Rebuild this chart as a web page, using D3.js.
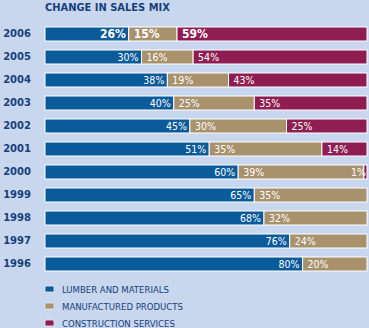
<!DOCTYPE html>
<html>
<head>
<meta charset="utf-8">
<script src="https://cdn.jsdelivr.net/npm/d3@7"></script>
<style>
  html, body { margin: 0; padding: 0; background: #c8d6ee; }
  svg { display: block; }
</style>
</head>
<body>
<div id="chart"></div>
<script>
// sales mix by year, in percent
let years = ["2006", "2005", "2004", "2003", "2002", "2001", "2000", "1999", "1998", "1997", "1996"];
let lumber = [26, 30, 38, 40, 45, 51, 60, 65, 68, 76, 80];
let manufactured = [15, 16, 19, 25, 30, 35, 39, 35, 32, 24, 20];
let construction = [59, 54, 43, 35, 25, 14, 1, 0, 0, 0, 0];

let seriesNames = ["LUMBER AND MATERIALS", "MANUFACTURED PRODUCTS", "CONSTRUCTION SERVICES"];
let colors = ["#0b5a9a", "#a8916d", "#8e1e52"];

let width = 369, height = 328;
let dark = "#173f7c";

const svg = d3.select("#chart")
  .append("svg")
  .attr("width", width)
  .attr("height", height);

svg.append("rect")
  .attr("width", width)
  .attr("height", height)
  .attr("fill", "#c8d6ee");

svg.append("text")
  .attr("x", 45)
  .attr("y", 11)
  .attr("fill", dark)
  .style("font-family", "DejaVu Sans Condensed")
  .style("font-weight", "bold")
  .style("font-size", "11px")
  .text("CHANGE IN SALES MIX");

let x = d3.scaleLinear().domain([0, 100]).range([45, 367]);
let y = d3.scaleBand().domain(years).range([27, 271]).paddingInner(9 / 23);

// stack the three series per year
let rows = years.map((yr, i) => ({ year: yr, v: [lumber[i], manufactured[i], construction[i]] }));
let stack = d3.stack().keys([0, 1, 2]).value((d, k) => d.v[k]);
let layers = stack(rows);

let g = svg.append("g");

layers.forEach((layer, k) => {
  g.selectAll(null)
    .data(layer.filter(d => d[1] > d[0]))
    .join("rect")
    .attr("x", d => x(d[0]))
    .attr("y", d => y(d.data.year))
    .attr("width", d => x(d[1]) - x(d[0]))
    .attr("height", y.bandwidth())
    .attr("fill", colors[k])
    .attr("stroke", "#ffffff")
    .attr("stroke-width", 1);
});

// value labels
layers.forEach((layer, k) => {
  g.selectAll(null)
    .data(layer.filter(d => d[1] > d[0]))
    .join("text")
    .attr("x", d => {
      let w = x(d[1]) - x(d[0]);
      if (k === 0) return x(d[1]) - 3;
      if (w < 20) return x(d[1]) - 1;
      return x(d[0]) + 5;
    })
    .attr("y", d => y(d.data.year) + y.bandwidth() / 2 + 4)
    .attr("text-anchor", d => (k === 0 || x(d[1]) - x(d[0]) < 20) ? "end" : "start")
    .attr("fill", "#ffffff")
    .style("font-family", "DejaVu Sans Condensed")
    .style("font-weight", d => d.data.year === "2006" ? "bold" : "normal")
    .style("font-size", d => d.data.year === "2006" ? "12px" : "10.5px")
    .text(d => (d[1] - d[0]) + "%");
});

// year axis
let axis = svg.append("g")
  .attr("transform", "translate(45,0)")
  .call(d3.axisLeft(y).tickSize(0).tickPadding(14));
axis.select(".domain").remove();
axis.selectAll("text")
  .attr("fill", dark)
  .style("font-family", "DejaVu Sans")
  .style("font-weight", "bold")
  .style("font-size", "10px");

// legend
let legend = svg.append("g")
  .selectAll("g")
  .data(seriesNames)
  .join("g")
  .attr("transform", (d, i) => `translate(45,${286 + i * 17})`);

legend.append("rect")
  .attr("width", 9)
  .attr("height", 6)
  .attr("rx", 1.5)
  .attr("fill", (d, i) => colors[i])
  .attr("stroke", "#e6ecf6")
  .attr("stroke-width", 0.8);

legend.append("text")
  .attr("x", 17)
  .attr("y", 6.8)
  .attr("fill", dark)
  .style("font-family", "DejaVu Sans Condensed")
  .style("font-size", "9.5px")
  .text(d => d);
</script>
</body>
</html>
